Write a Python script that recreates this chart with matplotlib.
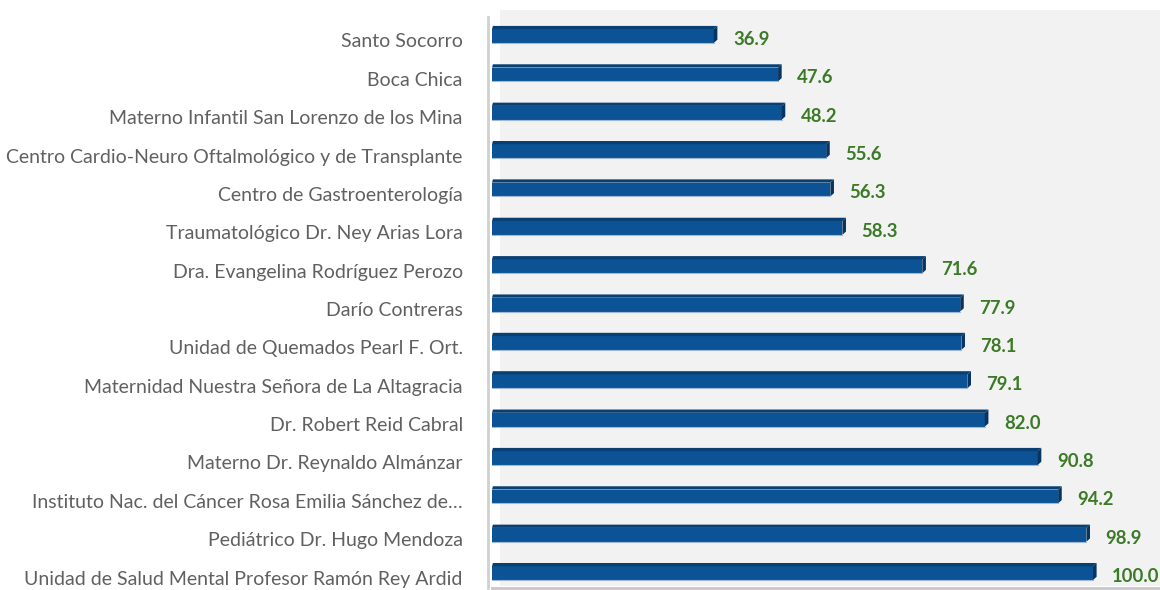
import matplotlib
matplotlib.use("Agg")
import matplotlib.pyplot as plt
from matplotlib.patches import Polygon, Rectangle
from matplotlib.lines import Line2D
from matplotlib.transforms import ScaledTranslation

categories = [
    "Santo Socorro",
    "Boca Chica",
    "Materno Infantil San Lorenzo de los Mina",
    "Centro Cardio-Neuro Oftalmológico y de Transplante",
    "Centro de Gastroenterología",
    "Traumatológico Dr. Ney Arias Lora",
    "Dra. Evangelina Rodríguez Perozo",
    "Darío Contreras",
    "Unidad de Quemados Pearl F. Ort.",
    "Maternidad Nuestra Señora de La Altagracia",
    "Dr. Robert Reid Cabral",
    "Materno Dr. Reynaldo Almánzar",
    "Instituto Nac. del Cáncer Rosa Emilia Sánchez de…",
    "Pediátrico Dr. Hugo Mendoza",
    "Unidad de Salud Mental Profesor Ramón Rey Ardid",
]
values = [36.9, 47.6, 48.2, 55.6, 56.3, 58.3, 71.6, 77.9, 78.1, 79.1, 82.0, 90.8, 94.2, 98.9, 100.0]

W, H = 1160, 590
fig = plt.figure(figsize=(W / 100, H / 100), dpi=100)
fig.patch.set_facecolor("white")

# gray plot area background
fig.patches.append(Rectangle((500 / W, (H - 586) / H), (W - 500) / W, (586 - 10) / H,
                             transform=fig.transFigure, facecolor="#f2f2f2",
                             edgecolor="none", zorder=-5))
# left axis line and bottom shadow line
fig.lines.append(Line2D([488 / W, 488 / W], [(H - 588) / H, (H - 17) / H],
                        transform=fig.transFigure, color="#d0d0d0", lw=2.0, zorder=-4))
fig.lines.append(Line2D([492 / W, 1160 / W], [(H - 588) / H, (H - 588) / H],
                        transform=fig.transFigure, color="#c8c8c8", lw=2.0, zorder=-4))

left_px, top_px, bot_px = 492, 10, 588
scale = 6.01  # px per unit
ax = fig.add_axes([left_px / W, (H - bot_px) / H, (W - left_px) / W, (bot_px - top_px) / H])
ax.set_facecolor("none")
ax.set_xlim(0, (W - left_px) / scale)
ax.set_ylim(-0.417, 14.65)
for s in ax.spines.values():
    s.set_visible(False)
ax.set_xticks([])

n = len(categories)
ypos = [n - 1 - i for i in range(n)]
h_front = 0.36
dx, dy = 0.6, 0.085

front = "#0b5394"
topc = "#0a3f73"
side = "#083560"

for y, v in zip(ypos, values):
    yb = y - h_front / 2 - 0.03
    ax.add_patch(Rectangle((0, yb), v, h_front, facecolor=front, edgecolor="none", zorder=3))
    ax.add_patch(Polygon([(0, yb + h_front), (v, yb + h_front), (v + dx, yb + h_front + dy),
                          (0.15, yb + h_front + dy)], closed=True, facecolor=topc,
                         edgecolor="none", zorder=3))
    ax.add_patch(Polygon([(v, yb), (v + dx, yb + dy), (v + dx, yb + h_front + dy),
                          (v, yb + h_front)], closed=True, facecolor=side,
                         edgecolor="none", zorder=3))
    ax.plot([0, v], [yb, yb], color="#9fb9d6", lw=0.8, zorder=4)
    ax.text(v + 3.2, y - 0.12, f"{v:.1f}", color="#3b7a26", fontsize=13.3,
            fontweight="bold", va="center", ha="left", family="Lato", zorder=5)

ax.set_yticks(ypos)
ax.set_yticklabels(categories, fontsize=14.0, color="#606060", family="Lato")
ax.tick_params(axis="y", length=0, pad=21)
off = ScaledTranslation(0, -4 / 72, fig.dpi_scale_trans)
for lbl in ax.get_yticklabels():
    lbl.set_transform(lbl.get_transform() + off)

fig.savefig("out.png", dpi=100)
